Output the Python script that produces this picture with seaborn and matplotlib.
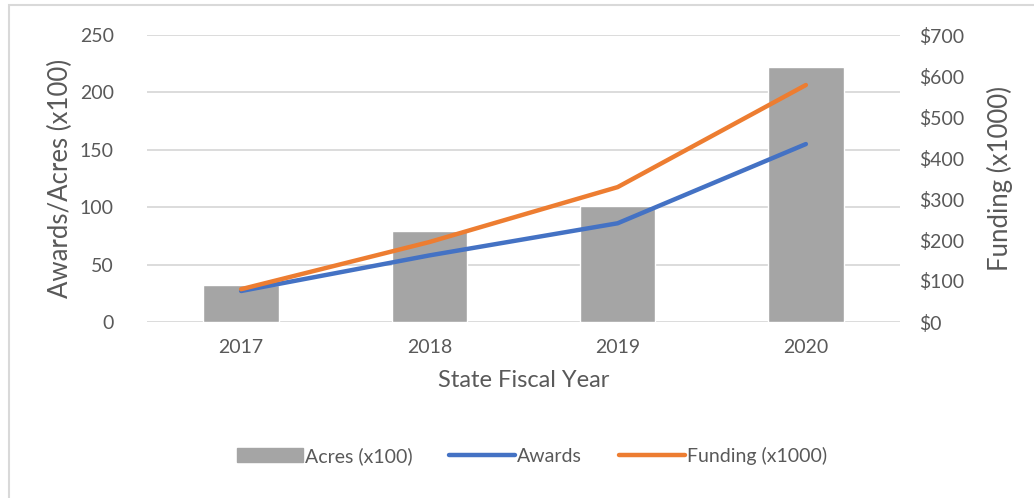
import numpy as np
import matplotlib
matplotlib.use("Agg")
import matplotlib.pyplot as plt
import matplotlib.patches as mpatches
from matplotlib.lines import Line2D
from matplotlib.ticker import FuncFormatter
import seaborn as sns

years = ["2017", "2018", "2019", "2020"]
acres = [32, 79, 101, 222]          # Acres (x100)
awards = [27, 58, 86, 155]          # Awards
funding = [80, 195, 329, 578]       # Funding (x1000), dollars

bar_color = "#a5a5a5"
awards_color = "#4472c4"
funding_color = "#ed7d31"
text_color = "#595959"
grid_color = "#d9d9d9"

sns.set_style("white")
plt.rcParams["font.family"] = ["Lato", "DejaVu Sans"]

fig = plt.figure(figsize=(10.34, 4.98), dpi=100)
ax = fig.add_axes([147 / 1034, 176 / 498, 753 / 1034, 287 / 498])

sns.barplot(x=years, y=acres, color=bar_color, width=0.4, ax=ax,
            saturation=1, zorder=2)

pos = np.arange(len(years))
sns.lineplot(x=pos, y=awards, color=awards_color, linewidth=3.2, ax=ax,
             zorder=4, solid_capstyle="round")

ax2 = ax.twinx()
sns.lineplot(x=pos, y=funding, color=funding_color, linewidth=3.2, ax=ax2,
             zorder=5, solid_capstyle="round")

ax.set_xlim(-0.5, 3.5)
ax.set_ylim(0, 250)
ax.set_yticks(range(0, 251, 50))
ax2.set_ylim(0, 700)
ax2.set_yticks(range(0, 701, 100))
ax2.yaxis.set_major_formatter(FuncFormatter(lambda v, p: f"${int(v)}"))

ax.yaxis.grid(True, color=grid_color, linewidth=1.3, zorder=0)
ax.set_axisbelow(True)
for a in (ax, ax2):
    for s in a.spines.values():
        s.set_visible(False)
    a.tick_params(length=0, labelsize=14, colors=text_color)
ax.tick_params(axis="y", pad=24)
ax.tick_params(axis="x", pad=12)
ax2.tick_params(axis="y", pad=14)

ax.set_xlabel("State Fiscal Year", fontsize=17, color=text_color, labelpad=10)
ax.set_ylabel("Awards/Acres (x100)", fontsize=18.5, color=text_color)
ax.yaxis.set_label_coords(-0.098, 0.5)
ax2.set_ylabel("Funding (x1000)", fontsize=18.5, color=text_color, labelpad=16)

handles = [
    mpatches.Patch(color=bar_color, label="Acres (x100)"),
    Line2D([0], [0], color=awards_color, lw=3.2, solid_capstyle="round", label="Awards"),
    Line2D([0], [0], color=funding_color, lw=3.2, solid_capstyle="round", label="Funding (x1000)"),
]
fig.legend(handles=handles, loc="center", bbox_to_anchor=(532 / 1034, 1 - 456 / 498),
           ncol=3, frameon=False, fontsize=14, handlelength=3.4, handletextpad=0.1,
           columnspacing=1.9, labelcolor=text_color)

fig.patches.append(mpatches.Rectangle((9 / 1034, -0.05), 1.2, 1 - 5 / 498 + 0.05,
                                      transform=fig.transFigure, fill=False,
                                      edgecolor=grid_color, linewidth=1.5))

fig.savefig("out.png", dpi=100)
